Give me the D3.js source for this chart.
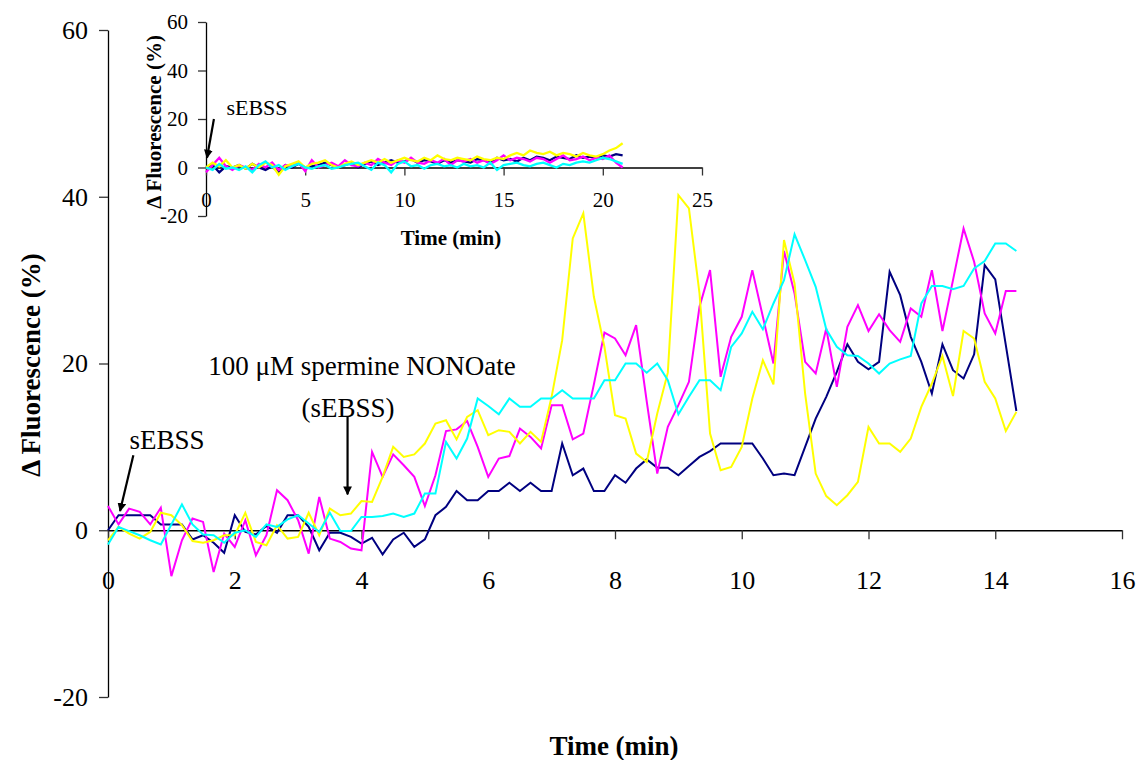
<!DOCTYPE html>
<html>
<head>
<meta charset="utf-8">
<script src="https://cdn.jsdelivr.net/npm/d3@7"></script>
<style>
  body { margin: 0; background: #fff; }
  svg { display: block; font-family: "Liberation Serif", "Times New Roman", serif; }
</style>
</head>
<body>
<svg id="chart" width="1144" height="760"></svg>
<script>
// main plot: one sample every 10 s
const mainStep = 1 / 6;
const navy = [0.0, 1.8, 1.8, 1.8, 1.8, 0.7, 0.7, 0.7, -1.1, -0.6, -1.5, -2.7, 1.8, -0.2, -0.5, 0.5, -0.3, 1.8, 1.8, 0.4,
  -2.4, -0.3, -0.3, -0.8, -1.6, -0.9, -2.9, -1.1, -0.3, -2.0, -1.1, 1.8, 2.8, 4.7, 3.6, 3.6, 4.7, 4.7, 5.7, 4.7,
  5.7, 4.7, 4.7, 10.4, 6.6, 7.4, 4.7, 4.7, 6.6, 5.7, 7.4, 8.5, 7.5, 7.5, 6.6, 7.7, 8.8, 9.5, 10.4, 10.4,
  10.4, 10.4, 8.6, 6.6, 6.8, 6.6, 10.0, 13.4, 16.0, 19.0, 22.3, 20.2, 19.3, 20.2, 31.0, 28.2, 23.2, 20.2, 16.4, 22.3,
  19.2, 18.2, 21.1, 31.8, 30.1, 22.2, 14.3];
const magenta = [2.9, 0.7, 2.6, 2.2, 0.7, 2.7, -5.5, -1.2, 1.4, 1.0, -5.0, -0.4, -2.0, 1.2, -3.0, -0.6, 4.8, 3.6, 1.2, -2.8,
  4.0, -1.0, -1.4, -2.2, -2.4, 9.4, 6.4, 9.1, 7.8, 6.4, 2.9, 6.6, 11.9, 12.1, 13.1, 10.0, 6.4, 8.6, 8.9, 12.2,
  11.2, 9.8, 15.0, 15.0, 10.9, 11.6, 17.5, 23.7, 23.0, 21.0, 24.6, 15.5, 6.8, 12.4, 15.0, 17.8, 26.8, 31.2, 18.4, 23.2,
  25.6, 31.2, 25.6, 20.0, 33.5, 28.4, 20.2, 18.8, 24.2, 17.2, 24.4, 27.0, 23.9, 25.9, 24.0, 22.6, 26.6, 25.6, 31.2, 23.9,
  30.0, 36.2, 32.2, 26.0, 23.6, 28.7, 28.7];
const yellow = [-1.2, 0.4, -0.4, -1.0, -0.2, 2.1, 1.8, 0.6, -1.3, -1.5, -1.2, -0.6, -0.6, 2.1, -1.4, -1.8, 0.6, -1.0, -0.8, 2.1,
  -0.6, 2.6, 1.8, 2.0, 3.5, 3.4, 6.4, 10.0, 8.8, 9.1, 10.4, 12.8, 13.2, 10.9, 13.6, 14.4, 11.4, 12.0, 11.8, 10.4,
  11.8, 10.6, 16.0, 22.8, 35.0, 38.0, 28.0, 22.0, 13.8, 13.4, 9.2, 8.2, 14.0, 18.9, 40.2, 38.6, 28.4, 11.6, 7.2, 7.6,
  10.0, 15.8, 20.4, 17.5, 34.8, 29.6, 16.4, 6.8, 4.1, 3.0, 4.2, 5.8, 12.4, 10.4, 10.4, 9.4, 11.0, 14.8, 17.6, 20.9,
  16.1, 23.9, 23.0, 17.8, 15.8, 11.9, 14.2];
const cyan = [-1.7, 0.4, -0.1, -0.6, -1.2, -1.7, 0.7, 3.1, 0.7, -0.5, -0.6, -1.5, -0.3, 0.0, -0.8, 0.7, 0.4, 1.3, 1.8, 0.8,
  -0.2, 2.1, -0.1, -0.1, 1.6, 1.6, 1.7, 2.0, 1.6, 2.0, 4.4, 4.4, 10.6, 8.6, 11.0, 15.8, 14.9, 13.9, 15.8, 14.8,
  14.8, 15.8, 15.8, 16.8, 15.8, 15.8, 15.8, 18.0, 18.0, 20.0, 20.0, 18.9, 20.0, 18.0, 13.9, 16.0, 18.0, 18.0, 16.8, 22.0,
  23.6, 26.2, 24.1, 27.2, 30.0, 35.5, 32.4, 29.2, 24.1, 22.0, 21.0, 20.9, 20.0, 18.8, 20.0, 20.5, 20.9, 27.2, 29.3, 29.3,
  28.9, 29.3, 31.4, 32.3, 34.4, 34.4, 33.5];

// inset: full record, one value every 20 s
const insetStep = 1 / 3;
const insetNavy = [0, 1, -2, 0.5, 0, 1, -0.5, 1.5, 0, -1, 0.5, -2, 1, 0, 1.5, 0, 0.5, 1, 2, 1, 0.5, 1, 2, 0, 1.5, 2.5, 1, 2, 3, 2,
  2.5, 3.5, 2, 3, 2.5, 1.5, 3, 2, 3, 2.5, 2, 3.5, 3, 2, 4, 3, 3.5, 2.5, 4, 3, 4.5, 4, 3, 4.5, 4, 3.5, 5, 4, 4.5, 4,
  5, 4.5, 5.5, 5];
const insetMagenta = [-2, 1, 4, 0.5, -1, 1, 0, -1, 1.5, 0, 2, -1, 1, 0.5, 2, -1.5, 3, 0, 1, 2, 0.5, 3, 1, 0.5, 2, 1, 3.5, 2, 1, 3,
  2, 4, 2, 1.5, 3, 2, 3.5, 1, 3, 2.5, 3.5, 2, 3, 1.5, 3, 5, 3, 4, 3.5, 2.5, 4, 3.5, 2, 3.5, 5, 3, 3.5, 4.5, 3, 4,
  3.5, 5, 2, 0];
const insetYellow = [0, 2, 0.5, 3, 0, 1, -0.5, 1.5, 0, 2, 1, -3, 0.5, 1.5, 2.5, 0, 1.5, 2, 3, 1, 0, 1.5, 2.5, 1, 2, 3, 2, 3.5, 2, 3,
  4, 3, 2.5, 4, 3, 5, 3.5, 3, 4, 3.5, 3, 4.5, 3.5, 3, 4, 3.5, 5, 6, 5, 7, 6, 5.5, 6.5, 5, 6, 5.5, 4.5, 6, 5, 4.5,
  5.5, 7, 8, 10];
const insetCyan = [0, -1, 1.5, -0.5, 0, -1, 0.5, -2, 1, 2.5, 0, 1, -1, 0.5, 1.5, 0, -0.5, 0.5, 1, -0.5, 0, 1, 1.5, 2, 0.5, -1, 2, 1, -2, 1.5,
  2.5, 0.5, 1, -0.5, 1, 1.5, 0.5, 1, 0, 1.5, 0.5, 1, 0, 2, -1, 1, 1.5, 2, 1, 0.5, 1.5, 2, 1, 0, 1.5, 1, 2, 2.5, 2, 3,
  4, 3.5, 2.5, 1.5];

const xTicksMain = [0, 2, 4, 6, 8, 10, 12, 14, 16];
const xTicksInset = [0, 5, 10, 15, 20, 25];
const yTicks = [-20, 0, 20, 40, 60];

const seriesColors = ["#000080", "#ff00ff", "#ffff00", "#00ffff"];

const svg = d3.select("#chart");
svg.append("rect").attr("width", 1144).attr("height", 760).attr("fill", "#fff");

svg.append("defs").append("marker")
    .attr("id", "arrow")
    .attr("viewBox", "0 0 10 10")
    .attr("refX", 9).attr("refY", 5)
    .attr("markerWidth", 4).attr("markerHeight", 4)
    .attr("orient", "auto")
  .append("path")
    .attr("d", "M0,0L10,5L0,10z")
    .attr("fill", "#000");

// plain hyphen for negatives, like the original
const fmt = d => (d < 0 ? "-" + Math.abs(d) : String(d));

function drawPanel(g, opt) {
    var x = d3.scaleLinear().domain(opt.xDomain).range(opt.xRange);
    var y = d3.scaleLinear().domain([-20, 60]).range(opt.yRange);

    var yAxis = g.append("g")
        .attr("transform", "translate(" + opt.xRange[0] + ",0)")
        .call(d3.axisLeft(y).tickValues(yTicks).tickFormat(fmt).tickSize(opt.tick).tickSizeOuter(0).tickPadding(opt.yPad));
    var xAxis = g.append("g")
        .attr("transform", "translate(0," + y(0) + ")")
        .call(d3.axisBottom(x).tickValues(opt.xTicks).tickFormat(fmt).tickSize(opt.tick).tickSizeOuter(0).tickPadding(opt.xPad));

    [yAxis, xAxis].forEach(a => {
        a.select(".domain").attr("stroke", "#000").attr("stroke-width", 1.3);
        a.selectAll(".tick line").attr("stroke", "#333").attr("stroke-width", 1.3);
        a.selectAll("text")
            .attr("fill", "#000")
            .style("font-family", "Liberation Serif, Times New Roman, serif")
            .style("font-size", opt.font + "px");
    });

    var line = d3.line()
        .x((d, i) => x(i * opt.step))
        .y(d => y(d));

    opt.series.forEach((s, k) => {
        g.append("path")
            .datum(s)
            .attr("fill", "none")
            .attr("stroke", seriesColors[k])
            .attr("stroke-width", opt.lw)
            .attr("stroke-linejoin", "miter")
            .attr("d", line);
    });

    g.append("text")
        .attr("x", opt.xTitle[0]).attr("y", opt.xTitle[1])
        .attr("text-anchor", "middle")
        .style("font-weight", "bold").style("font-size", opt.titleFont + "px")
        .text("Time (min)");
    g.append("text")
        .attr("transform", "translate(" + opt.yTitle[0] + "," + opt.yTitle[1] + ") rotate(-90)")
        .attr("text-anchor", "middle")
        .style("font-weight", "bold").style("font-size", opt.titleFont + "px")
        .text("\u0394 Fluorescence (%)");
    return {x: x, y: y};
}

// main chart
var main = drawPanel(svg.append("g"), {
    xDomain: [0, 16], xRange: [108, 1122], yRange: [697, 30],
    xTicks: xTicksMain, tick: 9, yPad: 11, xPad: 31, font: 26,
    step: mainStep, lw: 2, series: [navy, magenta, yellow, cyan],
    titleFont: 27, xTitle: [614, 755], yTitle: [40, 365]
});

// inset chart
var inset = drawPanel(svg.append("g"), {
    xDomain: [0, 25], xRange: [206, 702], yRange: [216, 22],
    xTicks: xTicksInset, tick: 8, yPad: 10, xPad: 17, font: 21,
    step: insetStep, lw: 2.3, series: [insetNavy, insetMagenta, insetYellow, insetCyan],
    titleFont: 21, xTitle: [451, 245], yTitle: [161, 122]
});

// annotations
function note(txt, xx, yy, size) {
    svg.append("text").attr("x", xx).attr("y", yy)
        .attr("text-anchor", "middle")
        .style("font-size", size + "px")
        .text(txt);
}
function arrow(x1, y1, x2, y2) {
    svg.append("line")
        .attr("x1", x1).attr("y1", y1).attr("x2", x2).attr("y2", y2)
        .attr("stroke", "#000").attr("stroke-width", 2.2)
        .attr("marker-end", "url(#arrow)");
}

note("sEBSS", 167, 449, 27);
arrow(main.x(0.4), main.y(9), main.x(0.19), main.y(2.3));

note("100 \u03bcM spermine NONOate", 362, 375, 27);
note("(sEBSS)", 348, 417, 27);
arrow(main.x(3.78), main.y(13.6), main.x(3.78), main.y(4.3));

note("sEBSS", 257, 115, 22);
arrow(inset.x(0.4), inset.y(20), inset.x(0.05), inset.y(4));
</script>
</body>
</html>
